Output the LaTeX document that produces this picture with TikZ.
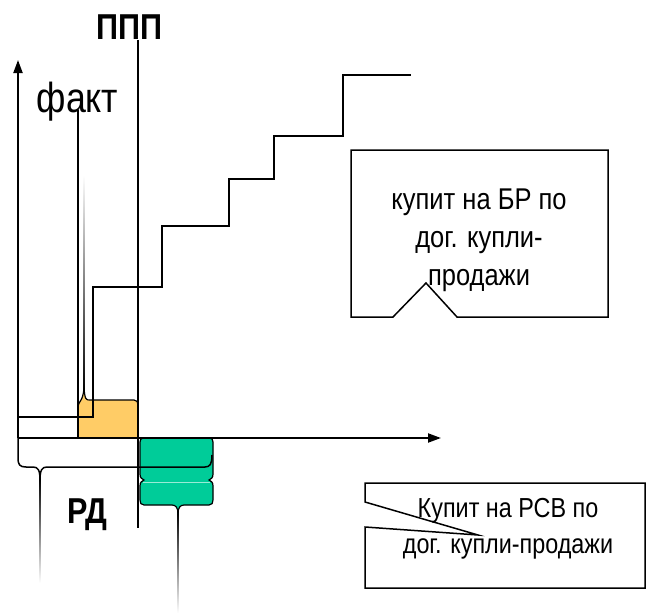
\documentclass[tikz,border=0pt]{standalone}
\usepackage{fontspec}
\setmainfont{Liberation Sans}
\newfontfamily\nrw[FakeStretch=0.85]{Liberation Sans}
\usetikzlibrary{arrows.meta}
\definecolor{yel}{HTML}{FFCC66}
\definecolor{grn}{HTML}{00CC99}
\tikzset{
  axis/.style={line width=2pt, -{Triangle[length=13pt,width=9pt]}},
  thinline/.style={line width=1.5pt},
  callout/.style={line width=1.5pt, fill=white},
  lbl/.style={inner sep=0pt, font=\nrw},
  boxtext/.style={inner sep=0pt, align=center},
}
\begin{document}
\begin{tikzpicture}[x=1pt,y=-1pt]
\useasboundingbox[fill=white] (0,0) rectangle (646,613);

% yellow shape (fact block) with spike
\shade[top color=white, bottom color=black] (83.2,175) rectangle (84.8,392);
\fill[yel] (78,437) -- (78,406) .. controls (79,401) and (83,401) .. (84,388)
  .. controls (85,400) and (86,400) .. (90,400) -- (134,400)
  .. controls (137,400) and (138,402) .. (138,405) -- (138,437) -- cycle;
\draw[line width=1.2pt] (84,388) .. controls (85,400) and (86,400) .. (90,400) -- (134,400)
  .. controls (137,400) and (138,402) .. (138,405);
\draw[line width=1.2pt] (78,406) .. controls (79,401) and (83,401) .. (84,388);

% green shape with tail
\shade[top color=black, bottom color=white] (177.2,512) rectangle (178.8,613);
\filldraw[fill=grn, draw=black, line width=1.2pt]
  (140,442) .. controls (140,439) and (141,438) .. (144,438) -- (209,438)
  .. controls (212,438) and (213,439) .. (213,442) -- (213,474)
  .. controls (213,478) and (211,479) .. (209,480)
  .. controls (211,481) and (213,482) .. (213,486) -- (213,500)
  .. controls (213,503) and (212,505) .. (209,505) -- (184,505)
  .. controls (180,505) and (178,508) .. (178,514)
  .. controls (178,508) and (176,505) .. (172,505) -- (144,505)
  .. controls (141,505) and (140,503) .. (140,500) -- (140,486)
  .. controls (140,482) and (142,481) .. (144,480)
  .. controls (142,479) and (140,478) .. (140,474) -- cycle;
\draw[grn!40!white, line width=1pt] (143,482) -- (210,482);

% left brace with tail
\shade[top color=black, bottom color=white] (39.2,478) rectangle (40.8,583);
\draw[line width=1.5pt] (18,438) -- (18,458) .. controls (18,465) and (20,467) .. (26,467)
  -- (33,467) .. controls (38,467) and (40,470) .. (40,480)
  .. controls (40,470) and (42,467) .. (47,467) -- (205,467)
  .. controls (210,467) and (212,464) .. (212,455);

% fact line and PPP line
\draw[thinline] (78,110) -- (78,437);
\draw[thinline] (138,40) -- (138,528);

% step line
\draw[thinline] (18,417) -- (93,417) -- (93,287) -- (162,287) -- (162,226)
  -- (229,226) -- (229,179) -- (274,179) -- (274,136) -- (343,136)
  -- (343,75) -- (411,75);

% axes
\draw[axis] (18,438) -- (18,60);
\draw[axis] (18,438) -- (441,438);

% callout boxes
\draw[callout] (351,150) -- (608,150) -- (608,317) -- (457,317) -- (426,283)
  -- (393,317) -- (351,317) -- cycle;
\draw[callout] (365,483) -- (645,483) -- (645,588) -- (365,588) -- (365,527)
  -- (478,535) -- (365,502) -- cycle;

% texts
\node[lbl, anchor=base, font=\nrw\bfseries\fontsize{36}{36}\selectfont] (ppp) at (129,39.5) {ППП};
\node[lbl, anchor=base, font=\nrw\fontsize{42}{42}\selectfont] (fakt) at (77.5,112) {факт};
\node[lbl, anchor=base, font=\nrw\bfseries\fontsize{36}{36}\selectfont] (rd) at (87.5,523) {РД};
\node[boxtext, font=\nrw\fontsize{30}{38}\selectfont] (br) at (479,240) {купит на БР по\\дог. купли-\\продажи};
\node[boxtext, font=\nrw\fontsize{27.5}{36}\selectfont] (rsv) at (508,529) {Купит на РСВ по\\дог. купли-продажи};
\end{tikzpicture}
\end{document}
